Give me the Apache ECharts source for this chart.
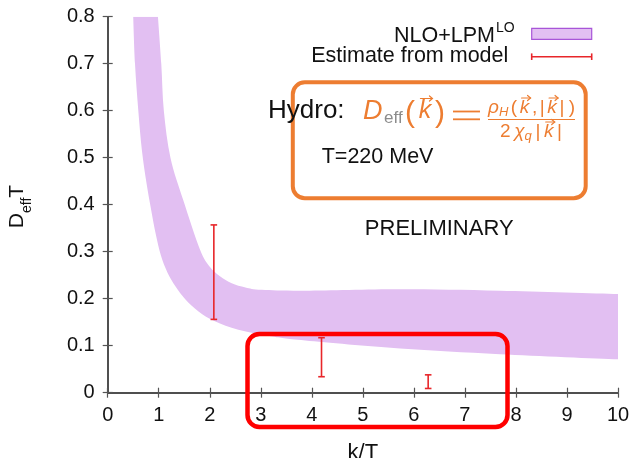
<!DOCTYPE html>
<html><head><meta charset="utf-8">
<script src="https://cdn.jsdelivr.net/npm/echarts@6/dist/echarts.min.js"></script>
<style>html,body{margin:0;padding:0;background:#fff}#c{width:635px;height:458px}</style>
</head><body><div id="c"></div>
<script>
// ---- data ----
const xTickLabels = ['0','1','2','3','4','5','6','7','8','9','10'];
const yTickLabels = ['0','0.1','0.2','0.3','0.4','0.5','0.6','0.7','0.8'];

// NLO+LPM^LO band: lower and upper boundaries (k/T, D_eff T)
const bandLowerK = [0.50, 0.535, 0.60, 0.67, 0.76, 0.85, 0.94, 1.04, 1.17, 1.33, 1.52, 1.78, 2.10, 2.56, 3.20, 3.87, 5.73, 7.69, 10];
const bandLowerY = [0.80, 0.70, 0.60, 0.516, 0.446, 0.390, 0.338, 0.293, 0.256, 0.226, 0.199, 0.173, 0.152, 0.134, 0.120, 0.111, 0.094, 0.082, 0.071];
const bandUpperK = [0.985, 1.05, 1.10, 1.23, 1.48, 1.81, 2.0, 2.2, 2.43, 2.7, 3.02, 3.87, 5.73, 7.69, 10];
const bandUpperY = [0.80, 0.70, 0.60, 0.50, 0.41, 0.304, 0.268, 0.248, 0.233, 0.224, 0.219, 0.217, 0.220, 0.217, 0.210];

// Estimate from model (error bars)
const errK    = [2.08, 4.19, 6.28];
const errLow  = [0.156, 0.034, 0.009];
const errHigh = [0.357, 0.117, 0.038];

const FONT = '"Liberation Sans", Arial, sans-serif';
const ORANGE = '#ed7d31';
const RED = '#e8262a';
const BAND = '#e2bff2';

function crPath(pts, start) {
  let d = (start ? 'M' : 'L') + pts[0][0] + ',' + pts[0][1];
  const n = pts.length;
  for (let i = 0; i < n - 1; i++) {
    const p0 = pts[Math.max(i - 1, 0)], p1 = pts[i], p2 = pts[i + 1], p3 = pts[Math.min(i + 2, n - 1)];
    const c1 = [p1[0] + (p2[0] - p0[0]) / 6, p1[1] + (p2[1] - p0[1]) / 6];
    const c2 = [p2[0] - (p3[0] - p1[0]) / 6, p2[1] - (p3[1] - p1[1]) / 6];
    d += 'C' + c1[0] + ',' + c1[1] + ' ' + c2[0] + ',' + c2[1] + ' ' + p2[0] + ',' + p2[1];
  }
  return d;
}

// --- helper to lay out a row of math glyphs as text elements ---
const mctx = document.createElement('canvas').getContext('2d');
function tw(t, size, italic) {
  mctx.font = (italic ? 'italic ' : '') + size + 'px ' + FONT;
  return mctx.measureText(t).width;
}
function vecArrow(cx, cy, w, color) {
  const st = {stroke: color, lineWidth: 1.2, lineCap: 'round'};
  const x1 = cx - w / 2, x2 = cx + w / 2;
  return [
    {type: 'line', z: 60, shape: {x1: x1, y1: cy, x2: x2, y2: cy}, style: st},
    {type: 'polyline', z: 60, shape: {points: [[x2 - 3, cy - 2.5], [x2, cy], [x2 - 3, cy + 2.5]]}, style: Object.assign({fill: null}, st)}
  ];
}
function mathRow(pieces, x0, x1, yMid, color) {
  const widths = pieces.map(p => tw(p.t, p.size, p.italic));
  const total = widths.reduce((a, b) => a + b, 0);
  const gw = pieces.reduce((a, p) => a + (p.g || 0), 0);
  const gap = gw > 0 ? (x1 - x0 - total) / gw : 0;
  let out = [];
  let x = x0;
  pieces.forEach((p, i) => {
    x += (p.g || 0) * gap;
    out.push({type: 'text', x: x, y: yMid + (p.dy || 0), z: 60, style: {
      text: p.t, fill: p.fill || color, fontSize: p.size, fontStyle: p.italic ? 'italic' : 'normal', fontFamily: FONT,
      align: 'left', textAlign: 'left', verticalAlign: 'middle', textVerticalAlign: 'middle'}});
    if (p.arrow) {
      out = out.concat(vecArrow(x + widths[i] / 2 + 1.5, yMid + p.arrow, p.aw || 9, p.fill || color));
    }
    x += widths[i];
  });
  return out;
}

const chart = echarts.init(document.getElementById('c'), null, {renderer: 'canvas'});

const axisCommon = {
  type: 'value',
  axisLine: {show: true, lineStyle: {color: '#444', width: 1.5}},
  axisTick: {show: true, inside: true, length: 5, lineStyle: {color: '#555', width: 1.2}},
  splitLine: {show: false},
};

const eqLeft = mathRow([
  {t: 'D', size: 27, italic: true, g: 0},
  {t: 'eff', size: 17, dy: 7, fill: '#8c8c8c', g: 0.2},
  {t: '(', size: 30, dy: 3, g: 0.3},
  {t: 'k', size: 25, italic: true, arrow: -12.5, aw: 12, g: 0.5},
  {t: ')', size: 30, dy: 3, g: 0.5}
], 363, 445, 111, ORANGE);

const eqNum = mathRow([
  {t: '\u03C1', size: 19, italic: true, g: 0},
  {t: 'H', size: 13, italic: true, dy: 4, g: 0},
  {t: '(', size: 19, g: 0.6},
  {t: 'k', size: 19, italic: true, arrow: -10, g: 0.6},
  {t: ',', size: 19, g: 0.6},
  {t: '|', size: 19, g: 0.6},
  {t: 'k', size: 19, italic: true, arrow: -10, g: 0.6},
  {t: '|', size: 19, g: 0.6},
  {t: ')', size: 19, g: 1}
], 488, 575, 108, ORANGE);

const eqDen = mathRow([
  {t: '2', size: 19, g: 0},
  {t: '\u03C7', size: 19, italic: true, g: 0.6},
  {t: 'q', size: 13, italic: true, dy: 4, g: 0},
  {t: '|', size: 19, g: 0.6},
  {t: 'k', size: 19, italic: true, arrow: -10, g: 0.6},
  {t: '|', size: 19, g: 0.6}
], 500, 562, 132, ORANGE);

const option = {
  backgroundColor: '#fff',
  animation: false,
  grid: {left: 107.7, right: 17, top: 16.7, bottom: 65.3, containLabel: false, outerBoundsMode: 'none'},
  xAxis: [
    Object.assign({}, axisCommon, {
      min: 0, max: 10, interval: 1, position: 'bottom',
      axisLabel: {show: true, margin: 13, color: '#111', fontSize: 20, fontFamily: FONT,
        formatter: v => xTickLabels[Math.round(v)]},
      name: 'k/T', nameLocation: 'middle', nameGap: 49,
      nameTextStyle: {color: '#111', fontSize: 22, fontFamily: FONT}
    }),
    Object.assign({}, axisCommon, {
      min: 0, max: 10, interval: 1, position: 'top', axisLabel: {show: false}
    })
  ],
  yAxis: [
    Object.assign({}, axisCommon, {
      min: 0, max: 0.8, interval: 0.1, position: 'left',
      axisLabel: {show: true, margin: 13, color: '#111', fontSize: 20, fontFamily: FONT,
        formatter: v => yTickLabels[Math.round(v * 10)]}
    }),
    Object.assign({}, axisCommon, {
      min: 0, max: 0.8, interval: 0.1, position: 'right', axisLabel: {show: false}
    })
  ],
  series: [
    {
      name: 'NLO+LPM', type: 'custom', xAxisIndex: 0, yAxisIndex: 0, clip: true, z: 1,
      data: [[5, 0.2]], encode: {x: 0, y: 1},
      renderItem: function (params, api) {
        const lo = bandLowerK.map((k, i) => api.coord([k, bandLowerY[i]]));
        const up = bandUpperK.map((k, i) => api.coord([k, bandUpperY[i]])).reverse();
        const d = crPath(lo, true) + crPath(up, false) + 'Z';
        return {type: 'path', shape: {pathData: d}, style: {fill: BAND, stroke: null}};
      }
    },
    {
      name: 'Estimate from model', type: 'custom', xAxisIndex: 0, yAxisIndex: 0, z: 3,
      data: errK.map((k, i) => [k, errLow[i], errHigh[i]]),
      encode: {x: 0, y: [1, 2]},
      renderItem: function (params, api) {
        const pl = api.coord([api.value(0), api.value(1)]);
        const ph = api.coord([api.value(0), api.value(2)]);
        const w = 3.3;
        const st = {stroke: RED, lineWidth: 1.6};
        return {type: 'group', children: [
          {type: 'line', shape: {x1: pl[0], y1: pl[1], x2: ph[0], y2: ph[1]}, style: st},
          {type: 'line', shape: {x1: pl[0] - w, y1: pl[1], x2: pl[0] + w, y2: pl[1]}, style: st},
          {type: 'line', shape: {x1: ph[0] - w, y1: ph[1], x2: ph[0] + w, y2: ph[1]}, style: st}
        ]};
      }
    }
  ],
  graphic: [
    // legend
    {type: 'text', x: 495, y: 36, z: 50, style: {text: 'NLO+LPM', fill: '#111', fontSize: 21.5, fontFamily: FONT, align: 'right', textAlign: 'right', verticalAlign: 'middle', textVerticalAlign: 'middle'}},
    {type: 'text', x: 496, y: 28.5, z: 50, style: {text: 'LO', fill: '#111', fontSize: 14, fontFamily: FONT, align: 'left', textAlign: 'left', verticalAlign: 'middle', textVerticalAlign: 'middle'}},
    {type: 'rect', z: 50, shape: {x: 531.7, y: 28.3, width: 60, height: 11}, style: {fill: BAND, stroke: '#a855d8', lineWidth: 1.2}},
    {type: 'text', x: 508.3, y: 56, z: 50, style: {text: 'Estimate from model', fill: '#111', fontSize: 21.5, fontFamily: FONT, align: 'right', textAlign: 'right', verticalAlign: 'middle', textVerticalAlign: 'middle'}},
    {type: 'line', z: 50, shape: {x1: 531.7, y1: 56.7, x2: 591.7, y2: 56.7}, style: {stroke: RED, lineWidth: 1.6}},
    {type: 'line', z: 50, shape: {x1: 531.7, y1: 53.4, x2: 531.7, y2: 60}, style: {stroke: RED, lineWidth: 1.6}},
    {type: 'line', z: 50, shape: {x1: 591.7, y1: 53.4, x2: 591.7, y2: 60}, style: {stroke: RED, lineWidth: 1.6}},
    // orange box
    {type: 'rect', z: 40, shape: {x: 292.8, y: 82.3, width: 292.9, height: 116, r: 12}, style: {fill: 'none', stroke: ORANGE, lineWidth: 4}},
    // Hydro equation
    {type: 'text', x: 268, y: 111, z: 60, style: {text: 'Hydro:', fill: '#111', fontSize: 26, fontFamily: FONT, align: 'left', textAlign: 'left', verticalAlign: 'middle', textVerticalAlign: 'middle'}},
    ...eqLeft,
    {type: 'line', z: 60, shape: {x1: 453, y1: 111.5, x2: 480, y2: 111.5}, style: {stroke: ORANGE, lineWidth: 1.8}},
    {type: 'line', z: 60, shape: {x1: 453, y1: 119.3, x2: 480, y2: 119.3}, style: {stroke: ORANGE, lineWidth: 1.8}},
    ...eqNum,
    {type: 'line', z: 60, shape: {x1: 488, y1: 119.5, x2: 575, y2: 119.5}, style: {stroke: ORANGE, lineWidth: 1.2}},
    ...eqDen,
    {type: 'text', x: 321.7, y: 157, z: 60, style: {text: 'T=220 MeV', fill: '#111', fontSize: 21.5, fontFamily: FONT, align: 'left', textAlign: 'left', verticalAlign: 'middle', textVerticalAlign: 'middle'}},
    {type: 'text', x: 439.2, y: 229, z: 60, style: {text: 'PRELIMINARY', fill: '#111', fontSize: 22, fontFamily: FONT, align: 'center', textAlign: 'center', verticalAlign: 'middle', textVerticalAlign: 'middle'}},
    // red box
    {type: 'rect', z: 100, shape: {x: 247.5, y: 334, width: 260, height: 93, r: 12}, style: {fill: 'none', stroke: '#ff0000', lineWidth: 4.5}},
    // y axis title
    {type: 'text', x: 17, y: 206.5, rotation: Math.PI / 2, z: 60, style: {
      text: '{a|D}{s|eff}{a|T}', fill: '#111', fontSize: 21, fontFamily: FONT,
      align: 'center', textAlign: 'center', verticalAlign: 'middle', textVerticalAlign: 'middle',
      rich: {
        a: {fill: '#111', fontSize: 21, fontFamily: FONT, lineHeight: 34},
        s: {fill: '#111', fontSize: 14, fontFamily: FONT, lineHeight: 14, verticalAlign: 'bottom'}
      }}}
  ]
};
chart.setOption(option);
</script>
</body></html>
